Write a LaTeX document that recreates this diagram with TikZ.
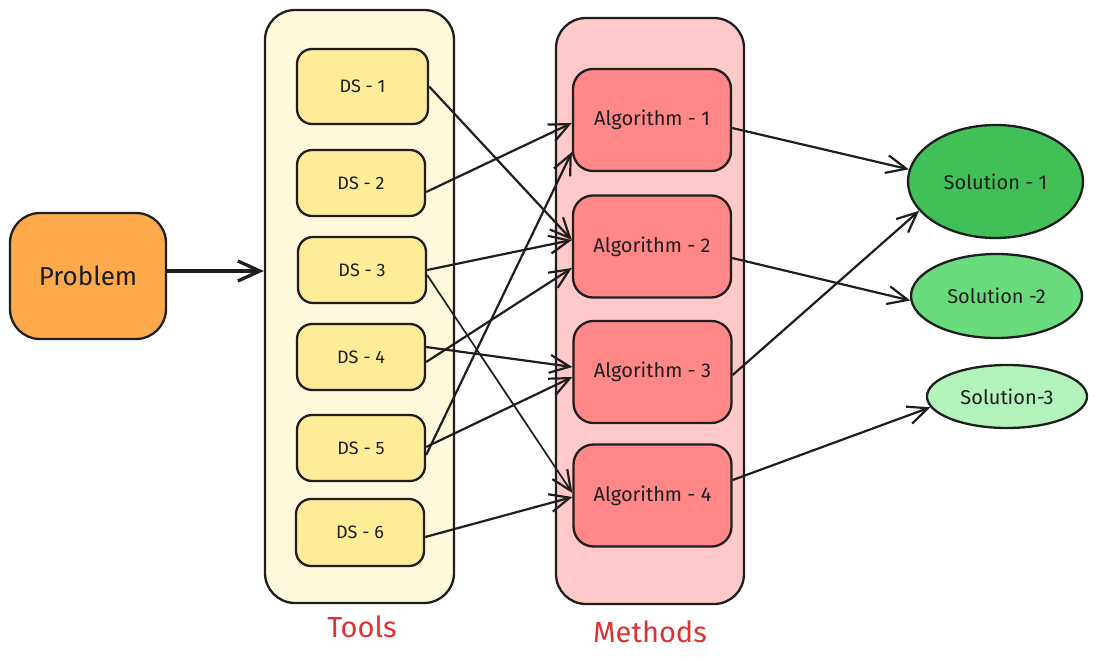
\documentclass[tikz,border=0pt]{standalone}
\usepackage{fontspec}
\setmainfont{Fira Sans}
\usetikzlibrary{shapes.geometric,arrows.meta}
\definecolor{probfill}{HTML}{FFA94D}
\definecolor{toolsfill}{HTML}{FFF9DB}
\definecolor{dsfill}{HTML}{FFEC99}
\definecolor{methfill}{HTML}{FFC9C9}
\definecolor{algfill}{HTML}{FF8787}
\definecolor{solA}{HTML}{40C057}
\definecolor{solB}{HTML}{69DB7C}
\definecolor{solC}{HTML}{B2F2BB}
\definecolor{lbl}{HTML}{E03131}
\definecolor{ink}{HTML}{1E1E1E}
\tikzset{
  box/.style={draw=ink, line width=2.3pt, inner sep=0pt, text=ink},
  container/.style={box, rounded corners=30pt},
  dsbox/.style={box, fill=dsfill, rounded corners=15pt, minimum width=128pt, minimum height=66pt, font=\fontsize{18}{20}\selectfont},
  algbox/.style={box, fill=algfill, rounded corners=20pt, minimum width=158pt, minimum height=102pt, font=\fontsize{20}{22}\selectfont},
  solnode/.style={box, ellipse, font=\fontsize{20}{22}\selectfont},
  conn/.style={draw=ink, line width=2.2pt, -{Straight Barb[length=20pt,width=18pt,line width=2.2pt]}},
  grouplabel/.style={text=lbl, font=\fontsize{29}{32}\selectfont},
}
\begin{document}
\begin{tikzpicture}[x=1pt,y=-1pt]
\useasboundingbox (0,0) rectangle (1097,661);
% containers
\node[container, fill=toolsfill, minimum width=189pt, minimum height=593pt] (tools) at (359.5,306.5) {};
\node[container, fill=methfill, minimum width=188pt, minimum height=586pt] (methods) at (650,311) {};
\node[grouplabel] (toolslbl) at (362,627) {Tools};
\node[grouplabel] (methlbl) at (650,632) {Methods};
% problem
\node[box, fill=probfill, rounded corners=30pt, minimum width=156pt, minimum height=126pt, font=\fontsize{26}{28}\selectfont] (prob) at (88,276) {Problem};
% DS
\node[dsbox, minimum width=131pt, minimum height=75pt] (ds1) at (362.5,86.5) {DS - 1};
\node[dsbox] (ds2) at (361,183) {DS - 2};
\node[dsbox] (ds3) at (362,270) {DS - 3};
\node[dsbox] (ds4) at (361,357) {DS - 4};
\node[dsbox] (ds5) at (361,448) {DS - 5};
\node[dsbox, minimum height=67pt] (ds6) at (360,532.5) {DS - 6};
% algorithms
\node[algbox] (alg1) at (652,120) {Algorithm - 1};
\node[algbox] (alg2) at (652,246.5) {Algorithm - 2};
\node[algbox] (alg3) at (652.5,372) {Algorithm - 3};
\node[algbox] (alg4) at (652.5,495.5) {Algorithm - 4};
% solutions
\node[solnode, fill=solA, minimum width=175pt, minimum height=113pt] (sol1) at (995.5,181.5) {Solution - 1};
\node[solnode, fill=solB, minimum width=171pt, minimum height=84pt] (sol2) at (996.5,296) {Solution -2};
\node[solnode, fill=solC, minimum width=160pt, minimum height=63pt] (sol3) at (1007,396.5) {Solution-3};
% connectors
\draw[conn, line width=3.5pt, -{Straight Barb[length=22pt,width=20pt,line width=3.3pt]}] ([yshift=5pt]prob.east) -- ([yshift=35.5pt]tools.west);
\draw[conn] (ds1.east) -- ([yshift=6.5pt]alg2.west);
\draw[conn] ([yshift=-9pt]ds2.east) -- ([yshift=-3pt]alg1.west);
\draw[conn] (ds3.east) -- ([yshift=6.5pt]alg2.west);
\draw[conn, line width=1.7pt] ([yshift=-5pt]ds3.east) -- ([yshift=2.5pt]alg4.west);
\draw[conn] ([yshift=10pt]ds4.east) -- ([yshift=5pt]alg3.west);
\draw[conn] ([yshift=-5pt]ds4.east) -- ([yshift=-21.5pt]alg2.west);
\draw[conn] ([yshift=-7pt]ds5.east) -- ([yshift=-32pt]alg1.west);
\draw[conn] ([yshift=1pt]ds5.east) -- ([yshift=-5pt]alg3.west);
\draw[conn] ([yshift=-4.5pt]ds6.east) -- ([yshift=-1.5pt]alg4.west);
\draw[conn] ([yshift=-8pt]alg1.east) -- (sol1.172);
\draw[conn] ([yshift=-11.5pt]alg2.east) -- (sol2.183);
\draw[conn] ([yshift=-3pt]alg3.east) -- (sol1.201);
\draw[conn] ([yshift=15.5pt]alg4.east) -- (sol3.188);
\end{tikzpicture}
\end{document}
